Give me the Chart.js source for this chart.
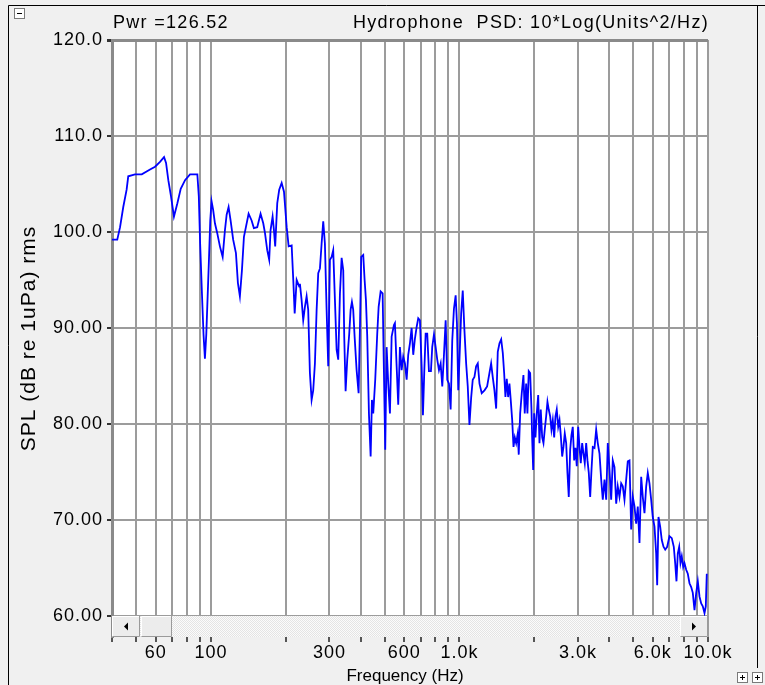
<!DOCTYPE html>
<html>
<head>
<meta charset="utf-8">
<title>Hydrophone PSD</title>
<script src="https://cdn.jsdelivr.net/npm/chart.js@4.4.1/dist/chart.umd.min.js"></script>
<style>
  body { margin: 0; background: #f0f0f0; }
  canvas { display: block; }
</style>
</head>
<body>
<canvas id="psdChart" width="765" height="685"></canvas>
<script>
// spectrum: frequency (Hz) and level (dB re 1uPa)
const freqHz = [
  40, 42.0, 43.1, 44.4, 45.8, 46.5, 49.5, 52.7, 56.9, 59.6,
  62.4, 64.8, 66.0, 67.4, 69.1, 71.0, 73.3, 75.6, 78.7, 82.4,
  88.2, 89.4, 90.5, 91.9, 93.4, 94.6, 95.8, 96.9, 98.2, 99.4,
  100.6, 102.1, 103.8, 106.0, 108.7, 111.5, 113.9, 115.7, 117.8, 120.0,
  122.9, 126.1, 128.4, 130.8, 133.3, 135.8, 138.3, 141.8, 145.8, 148.9,
  153.6, 158.4, 162.4, 165.0, 168.5, 171.6, 173.8, 177.1, 179.3, 181.4,
  184.9, 188.3, 192.6, 196.8, 201.8, 205.5, 211.3, 214.5, 217.3, 221.3,
  226.7,
  228.1, 231.7, 235.2, 238.9, 242.7, 246.3, 250.2, 254.2, 258.0, 262.1,
  266.3, 270.3, 274.6, 278.9, 283.1, 287.5, 292.1, 296.5, 301.2, 306.0,
  310.5, 315.5, 320.5, 325.3, 330.5, 335.7, 340.8, 343.9, 348.3, 353.6,
  360.2, 364.9, 369.3, 373.7, 378.6, 385.7, 392.9, 397.6, 402.5, 410.1,
  415.4, 420.5, 425.6, 432.3, 439.2, 444.5, 449.9, 458.3, 466.9, 473.0,
  481.8, 490.8, 496.8, 502.8, 509.3, 517.0, 525.2, 533.5, 545.0,
  550.0, 558.8, 567.1, 576.1, 585.3, 594.0, 603.5, 613.1, 622.2, 632.1,
  642.1, 651.7, 662.1, 672.6, 682.7, 693.4, 704.5, 713.0, 721.6, 731.1,
  742.0, 753.7, 767.9, 777.1, 789.6, 802.1, 814.1, 827.1, 840.2, 852.8,
  866.3, 880.0, 893.2, 907.4, 921.6, 935.5, 950.2, 965.4, 977.0, 988.8,
  1000, 1016, 1031, 1047, 1064, 1080, 1097, 1115, 1131, 1149,
  1167, 1185, 1204, 1229, 1261, 1292, 1320, 1341, 1361,
  1383, 1405, 1426, 1449, 1472, 1494, 1513, 1531, 1550, 1570,
  1589, 1608, 1630, 1650, 1670, 1691, 1716, 1732, 1755, 1781,
  1809, 1831, 1855, 1877, 1900, 1925, 1949, 1961, 1980, 1998,
  2022, 2047, 2074, 2099, 2124, 2152, 2178, 2204, 2233, 2260,
  2287, 2317, 2345, 2374, 2405, 2434, 2463, 2496, 2527, 2557,
  2590, 2621, 2653, 2688, 2720, 2753, 2789, 2822, 2857, 2894,
  2929, 2965, 3004, 3040, 3077, 3117, 3155, 3193, 3235, 3274,
  3314, 3357, 3398, 3439,
  3494, 3549, 3602, 3660, 3718, 3773, 3833, 3894, 3952, 4015,
  4078, 4139, 4205, 4272, 4335, 4404, 4474, 4541, 4613, 4686,
  4756, 4832, 4908, 4982, 5061, 5140, 5218, 5301, 5385, 5465,
  5552, 5640, 5724, 5815, 5907, 5995, 6091, 6187, 6245, 6321,
  6421, 6517, 6621, 6726, 6852, 6998, 7150, 7284, 7379, 7468,
  7558, 7657, 7749, 7843, 7946, 8042, 8170, 8293, 8424, 8558,
  8686, 8824, 8965, 9099, 9244, 9389, 9528, 9681, 9797, 9888
];
const splDb = [
  99.2, 99.2, 100.5, 102.6, 104.4, 105.8, 106.0, 106.0, 106.5, 106.8,
  107.3, 107.8, 107.2, 105.4, 103.7, 101.6, 103.0, 104.5, 105.4, 106.0,
  106.0, 103.7, 98.8, 94.0, 89.3, 86.8, 89.3, 92.9, 97.1, 101.2,
  103.2, 102.3, 100.9, 99.9, 98.5, 97.4, 100.2, 101.8, 102.6, 101.2,
  99.2, 97.8, 94.7, 93.3, 96.0, 99.5, 100.5, 101.9, 101.2, 100.4,
  100.5, 101.9, 100.9, 99.9, 98.1, 97.1, 100.2, 101.6, 100.2, 98.5,
  103.0, 104.4, 105.1, 104.2, 100.5, 98.5, 98.6, 95.0, 91.5, 95.0,
  94.3,
  94.6, 92.9, 90.8, 92.2, 93.3, 91.9, 85.3, 82.5, 83.5, 86.3,
  91.9, 95.7, 96.2, 98.8, 101.1, 98.8, 91.9, 86.0, 97.1, 97.4,
  98.1, 92.9, 87.7, 86.7, 93.6, 97.3, 96.0, 89.1, 83.4, 86.7,
  89.4, 91.9, 92.7, 91.9, 89.1, 85.6, 83.2, 89.8, 97.4, 97.6,
  95.0, 92.9, 89.1, 81.1, 76.6, 82.5, 81.1, 84.6, 89.4, 92.2,
  93.8, 93.6, 85.3, 77.3, 88.0, 84.2, 81.1, 89.1, 90.3,
  90.5, 86.0, 82.0, 88.0, 85.6, 87.0, 86.3, 84.6, 87.2, 88.4,
  90.0, 87.2, 88.9, 90.1, 91.0, 90.8, 86.0, 80.9, 85.3, 89.4,
  89.4, 85.5, 85.5, 88.0, 89.3, 88.0, 86.7, 85.6, 86.3, 83.9,
  87.2, 90.8, 84.6, 84.2, 81.5, 88.7, 92.0, 93.4, 90.5, 83.5,
  86.7, 91.5, 93.9, 89.8, 86.3, 83.9, 79.9, 82.8, 84.6, 84.9,
  86.0, 86.3, 84.2, 83.2, 83.5, 83.9, 85.3, 86.3, 84.9,
  83.5, 81.6, 87.5, 88.4, 88.8, 87.4, 85.3, 82.8, 84.7, 82.8,
  84.2, 82.5, 80.4, 77.6, 78.6, 78.0, 79.0, 76.8, 81.1, 83.2,
  85.1, 81.1, 84.2, 81.1, 85.5, 85.3, 81.5, 78.6, 75.2, 81.1,
  78.6, 81.1, 83.0, 78.0, 81.5, 78.6, 78.0, 79.4, 80.8, 82.3,
  81.5, 80.8, 79.4, 80.4, 78.6, 80.8, 81.5, 79.7, 80.4, 78.8,
  76.6, 77.6, 79.0, 78.0, 74.9, 72.4, 77.3, 78.8, 79.7, 76.2,
  77.5, 75.6, 79.7, 77.6, 75.9, 78.0, 76.9, 75.9, 78.0, 76.2,
  74.9, 72.4, 75.2, 77.6,
  77.5, 79.4, 78.0, 76.9, 74.2, 72.1, 74.2, 72.1, 78.0, 75.2,
  72.1, 76.2, 75.5, 71.7, 73.5, 72.4, 73.8, 73.5, 72.1, 74.2,
  76.1, 76.2, 69.0, 72.4, 71.4, 69.6, 71.4, 67.6, 74.5, 72.4,
  70.7, 73.5, 74.9, 73.8, 72.1, 70.3, 69.3, 66.5, 63.2, 70.3,
  69.3, 67.9, 67.2, 66.9, 67.2, 68.3, 68.1, 67.2, 65.5, 63.6,
  66.5, 67.2, 65.5, 66.2, 65.1, 65.5, 64.8, 64.4, 63.4, 63.0,
  62.4, 60.6, 62.4, 63.6, 62.0, 61.3, 61.0, 60.3, 61.0, 64.4
];

// axis ticks
const xGridHz = [40, 50, 60, 70, 80, 90, 100, 200, 300, 400, 500, 600, 700, 800, 900,
  1000, 2000, 3000, 4000, 5000, 6000, 7000, 8000, 9000, 10000];
const xLabelHz = [60, 100, 300, 600, 1000, 3000, 6000, 10000];
const xLabelText = ['60', '100', '300', '600', '1.0k', '3.0k', '6.0k', '10.0k'];
const yTickDb = [60, 70, 80, 90, 100, 110, 120];
const yTickText = ['60.00', '70.00', '80.00', '90.00', '100.0', '110.0', '120.0'];

const powerText = 'Pwr =126.52';
const headerText = 'Hydrophone  PSD: 10*Log(Units^2/Hz)';
const xTitleText = 'Frequency (Hz)';

const FONT = '"Liberation Sans", Arial, sans-serif';

// light dotted track for the scroll bar
const dots = document.createElement('canvas');
dots.width = 2; dots.height = 2;
const dctx = dots.getContext('2d');
dctx.fillStyle = '#fbfbfb'; dctx.fillRect(0, 0, 2, 2);
dctx.fillStyle = '#e4e4e4'; dctx.fillRect(0, 0, 1, 1); dctx.fillRect(1, 1, 1, 1);

function drawButton(ctx, x, y, w, h, arrow) {
  ctx.fillStyle = '#ececec';
  ctx.fillRect(x, y, w, h);
  ctx.lineWidth = 1;
  ctx.strokeStyle = '#ffffff';
  ctx.beginPath();
  ctx.moveTo(x + 0.5, y + h - 1); ctx.lineTo(x + 0.5, y + 0.5); ctx.lineTo(x + w - 1, y + 0.5);
  ctx.stroke();
  ctx.strokeStyle = '#9a9a9a';
  ctx.beginPath();
  ctx.moveTo(x + 0.5, y + h - 0.5); ctx.lineTo(x + w - 0.5, y + h - 0.5); ctx.lineTo(x + w - 0.5, y);
  ctx.stroke();
  if (!arrow) return;
  const cx = x + w / 2, cy = y + h / 2;
  ctx.fillStyle = '#000';
  ctx.beginPath();
  if (arrow === 'left') {
    ctx.moveTo(cx + 2, cy - 4); ctx.lineTo(cx + 2, cy + 4); ctx.lineTo(cx - 2, cy);
  } else {
    ctx.moveTo(cx - 2, cy - 4); ctx.lineTo(cx - 2, cy + 4); ctx.lineTo(cx + 2, cy);
  }
  ctx.closePath();
  ctx.fill();
}

function drawBox(ctx, x, y, sign) {
  ctx.fillStyle = '#ffffff';
  ctx.fillRect(x, y, 11, 11);
  ctx.strokeStyle = '#7a7a7a';
  ctx.lineWidth = 1;
  ctx.strokeRect(x + 0.5, y + 0.5, 10, 10);
  ctx.strokeStyle = '#000';
  ctx.beginPath();
  ctx.moveTo(x + 3, y + 5.5); ctx.lineTo(x + 8, y + 5.5);
  if (sign === '+') { ctx.moveTo(x + 5.5, y + 3); ctx.lineTo(x + 5.5, y + 8); }
  ctx.stroke();
}

const decorations = {
  id: 'decorations',
  beforeDraw(chart) {
    const { ctx, chartArea: a } = chart;
    ctx.letterSpacing = '1px';
    ctx.save();
    ctx.fillStyle = '#ffffff';
    ctx.fillRect(a.left, a.top, a.right - a.left, a.bottom - a.top);
    ctx.restore();
  },
  afterDraw(chart) {
    const { ctx, chartArea: a } = chart;
    ctx.save();
    // header line
    ctx.font = '18px ' + FONT;
    ctx.fillStyle = '#000';
    ctx.textBaseline = 'alphabetic';
    ctx.letterSpacing = '1.3px';
    ctx.textAlign = 'left';
    ctx.fillText(powerText, a.left + 1, 28);
    ctx.textAlign = 'right';
    ctx.fillText(headerText, a.right + 1, 28);
    // x axis title, a bit right of centre in the original
    ctx.font = '17px ' + FONT;
    ctx.letterSpacing = '0px';
    ctx.textAlign = 'center';
    ctx.fillText(xTitleText, 405, 681);

    // scroll bar across the bottom of the plot
    const h = 21, y0 = a.bottom - h;
    ctx.fillStyle = ctx.createPattern(dots, 'repeat');
    ctx.fillRect(a.left, y0, a.right - a.left, h);
    drawButton(ctx, a.left, y0, 28, h, 'left');
    drawButton(ctx, a.left + 29, y0, 31, h, null);
    drawButton(ctx, a.right - 28, y0, 28, h, 'right');

    // window frame and small boxes
    ctx.strokeStyle = '#000';
    ctx.lineWidth = 1;
    ctx.beginPath();
    ctx.moveTo(8.5, 685); ctx.lineTo(8.5, 5.5); ctx.lineTo(765, 5.5);
    ctx.moveTo(757.5, 5.5); ctx.lineTo(757.5, 668);
    ctx.stroke();
    drawBox(ctx, 14, 8, '-');
    drawBox(ctx, 737, 672, '+');
    drawBox(ctx, 752, 672, '+');
    ctx.restore();
  }
};

const points = freqHz.map((f, i) => ({ x: f, y: splDb[i] }));

new Chart(document.getElementById('psdChart'), {
  type: 'line',
  data: {
    datasets: [{
      data: points,
      borderColor: '#0000ff',
      borderWidth: 1.8,
      pointRadius: 0,
      tension: 0,
      fill: false
    }]
  },
  options: {
    responsive: false,
    animation: false,
    devicePixelRatio: 1,
    layout: { padding: { left: 8, top: 40, right: 57, bottom: 0 } },
    plugins: { legend: { display: false }, tooltip: { enabled: false } },
    scales: {
      x: {
        type: 'logarithmic',
        min: 40,
        max: 10000,
        afterBuildTicks: s => { s.ticks = xGridHz.map(v => ({ value: v })); },
        afterFit: s => { s.height = 48; },
        ticks: {
          autoSkip: false,
          maxRotation: 0,
          padding: 0,
          color: '#000',
          font: { family: FONT, size: 18 },
          callback: v => {
            const i = xLabelHz.indexOf(v);
            return i < 0 ? '' : xLabelText[i];
          }
        },
        grid: { color: '#9c9c9c', lineWidth: 2, tickLength: 5, tickColor: '#555' },
        border: { display: false }
      },
      y: {
        min: 57.8,
        max: 120,
        afterBuildTicks: s => { s.ticks = yTickDb.map(v => ({ value: v })); },
        afterFit: s => { s.width = 104; },
        ticks: {
          padding: 4,
          color: '#000',
          font: { family: FONT, size: 18 },
          callback: v => yTickText[yTickDb.indexOf(v)]
        },
        grid: {
          color: c => (c.tick && c.tick.value === 120 ? '#8a8a8a' : '#9c9c9c'),
          lineWidth: c => (c.tick && c.tick.value === 120 ? 3 : 2),
          tickLength: 5,
          tickColor: '#333'
        },
        border: { display: true, color: '#8a8a8a', width: 3 },
        title: {
          display: true,
          text: 'SPL (dB re 1uPa) rms',
          color: '#000',
          font: { family: FONT, size: 21 },
          padding: { top: 9, bottom: 0 }
        }
      }
    }
  },
  plugins: [decorations]
});
</script>
</body>
</html>
